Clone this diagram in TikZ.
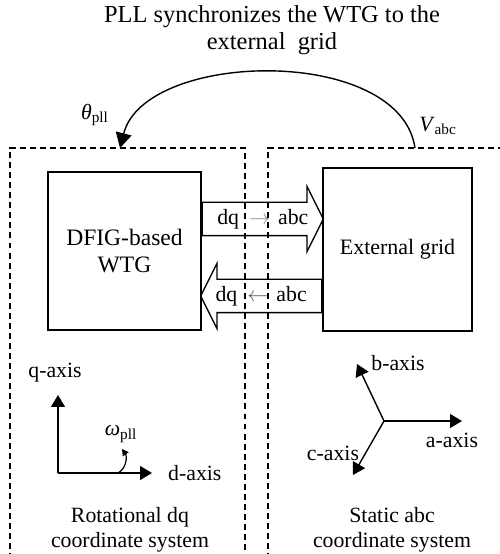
\documentclass[tikz,border=0pt]{standalone}
\usepackage{fontspec}
\setmainfont{Liberation Serif}
\usepackage{tikz}
\usetikzlibrary{arrows.meta, positioning, calc, shapes.arrows}

\begin{document}
\begin{tikzpicture}[
    font=\fontsize{12.4pt}{14.5pt}\selectfont, >=Triangle,
    region/.style={dash pattern=on 3.4pt off 2.3pt, line width=0.6pt},
    unit/.style={draw, line width=0.75pt, align=center,
                  font=\fontsize{13.4pt}{15pt}\selectfont},
    fatarrow/.style={single arrow, draw, line width=0.75pt, inner xsep=0pt,
                  inner ysep=0.32cm, single arrow head extend=0.32cm,
                  single arrow tip angle=127, single arrow head indent=0pt,
                  minimum height=2.42cm},
    axis/.style={-{Triangle[length=0.24cm, width=0.28cm]}, line width=0.8pt},
    sync/.style={-{Triangle[length=0.3cm, width=0.32cm]}, line width=0.8pt},
    rot/.style={-{Triangle[length=0.13cm, width=0.14cm]}, line width=0.7pt},
    sub/.style={inner sep=1pt}
]
\useasboundingbox (0,0) rectangle (10,11.08);

% --- Title above the synchronisation loop.
\node[align=center, font=\fontsize{13.9pt}{15pt}\selectfont] (title) at (5.44,10.48)
    {PLL synchronizes the WTG to the\\external~ grid};

% --- Two coordinate-system regions (open at the bottom).
\draw[region] (0.2,-0.1) -- (0.2,8.12) -- (4.9,8.12) -- (4.9,-0.1);
\draw[region] (5.36,-0.1) -- (5.36,8.12) -- (10.1,8.12);

% --- Machine (left) and grid (right).
\node[unit, minimum width=3.06cm, minimum height=3.16cm] (wtg)  at (2.49,6.06) {DFIG-based\\WTG};
\node[unit, minimum width=2.98cm, minimum height=3.26cm,
      font=\fontsize{12.5pt}{15pt}\selectfont] (grid) at (7.95,6.09) {External grid};

% --- Transformations between the frames.
\node[fatarrow, anchor=tail] (fwd) at (wtg.east |- 0,6.70) {};
\node[fatarrow, anchor=tail, shape border rotate=180] (bwd) at (grid.west |- 0,5.16) {};
\node at ($(fwd.tail)!0.5!(fwd.tip)$)
    {dq\hspace{0.2cm}{\color{black!45}$\rightarrow$}\hspace{0.16cm}abc};
\node at ($(bwd.tail)!0.5!(bwd.tip)$)
    {dq\hspace{0.2cm}{\color{black!65}$\leftarrow$}\hspace{0.16cm}abc};

% --- PLL loop: grid voltage in, angle out.
\coordinate (vin)  at (8.3,8.12);
\coordinate (thout) at (2.4,8.12);
\draw[sync] (vin) .. controls (8.0,10.18) and (2.9,10.08) .. (thout);
\node[sub] (theta) at (1.9,8.78) {\textit{θ}\textsubscript{pll}};
\node[sub] (vabc)  at (8.76,8.56) {\textit{V}\textsubscript{abc}};

% --- Rotational dq frame.
\coordinate (dqo)  at (1.16,1.62);
\coordinate (qtip) at (1.16,3.18);
\coordinate (dtip) at (3.04,1.62);
\draw[axis] (dqo) -- (qtip);
\draw[axis] (dqo) -- (dtip);
\node (qlab) at (1.1,3.62) {q-axis};
\node[right=0.2cm of dtip] (dlab) {d-axis};
\coordinate (wst) at (2.36,1.62);
\draw[rot] (wst) .. controls (2.54,1.72) and (2.54,1.96) .. (2.44,2.10);
\node[sub] (omega) at (2.42,2.40) {\textit{ω}\textsubscript{pll}};

% --- Static abc frame.
\coordinate (abco) at (7.68,2.66);
\coordinate (atip) at (9.24,2.66);
\coordinate (btip) at (7.14,3.80);
\coordinate (ctip) at (7.06,1.58);
\draw[axis] (abco) -- (atip);
\draw[axis] (abco) -- (btip);
\draw[axis] (abco) -- (ctip);
\node (alab) at (9.04,2.28) {a-axis};
\node (blab) at (7.96,3.82) {b-axis};
\node (clab) at (6.66,2.02) {c-axis};

% --- Region captions.
\node[align=center] (dqcap)  at (2.6,0.48)  {Rotational dq\\coordinate system};
\node[align=center] (abccap) at (7.84,0.48) {Static abc\\coordinate system};

\end{tikzpicture}
\end{document}
